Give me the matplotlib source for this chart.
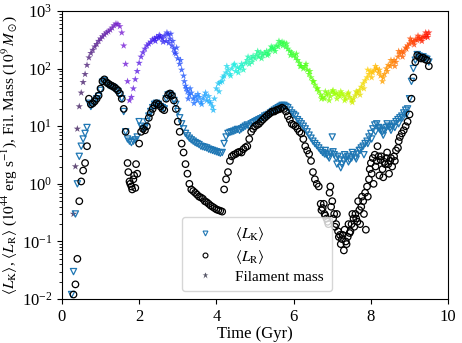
import numpy as np
import matplotlib
matplotlib.use("Agg")
import matplotlib.pyplot as plt
from matplotlib.colors import LinearSegmentedColormap
from matplotlib.lines import Line2D

# time grid (Gyr), 0.25 .. 9.50 in steps of 0.05
time = np.round(np.arange(0.25, 9.501, 0.05), 2)

fil_mass = [
    np.nan, 0.3, 2.0, 9, 22, 38, 58, 80, 115, 155,
    185, 210, 240, 265, 300, 330, 360, 390, 420, 440,
    470, 510, 560, 600, 590, 540, 420, 250, 120, 60,
    28, 32, 45, 65, 90, 125, 160, 190, 220, 250,
    270, 290, 320, 330, 350, 340, 360, 330, 370, 300,
    390, 330, 250, 220, 180, 150, 120, 95, 75, 50,
    40, 35, 38, 30, 33, 28, 32, 26, 30, 34,
    28, 33, 25, 22, 30, 45, 55, 58, 60, 75,
    85, 95, 80, 100, 115, 90, 105, 100, 120, 95,
    125, 140, 120, 150, 165, 150, 175, 160, 190, 170,
    185, 200, 180, 210, 230, 220, 250, 240, 270, 290,
    280, 240, 220, 200, 190, 170, 155, 140, 125, 110,
    100, 110, 95, 80, 70, 60, 52, 45, 40, 35,
    32, 30, 35, 38, 33, 40, 36, 38, 35, 33,
    37, 34, 30, 36, 32, 28, 30, 34, 38, 42,
    48, 55, 62, 70, 80, 90, 85, 95, 100, 85,
    75, 60, 80, 100, 115, 110, 125, 140, 130, 160,
    180, 200, 190, 230, 250, 270, 300, 290, 320, 310,
    340, 330, 360, 350, 380, 420,
]

L_K = [
    0.012, 0.03, 0.3, 1.0, 3.0, 4.5, 6, 7.5, 9.5, 25,
    22, 24, 27, 30, 33, 42, 58, 62, 55, 52,
    50, 48, 46, 42, 40, 35, 30, 18, 8, 6,
    5.5, 5.2, 5.5, 5.8, 6.5, 12, 10, 9, 9.5, 12,
    15, 18, 21, 24, 25, 24, 22, 21, 20, 30,
    35, 36, 33, 28, 24, 18, 14, 11, 9, 7.5,
    6.8, 6.2, 5.8, 5.5, 5.2, 5.0, 4.8, 4.5, 4.4, 4.3,
    4.2, 4.0, 3.9, 3.8, 3.7, 3.6, 3.5, 3.4, 3.5, 5.0,
    6.5, 7.5, 7.8, 8.0, 8.2, 8.5, 8.8, 8.5, 9.0, 9.5,
    10, 10.5, 10, 11, 11.5, 12, 12.5, 13, 13.5, 14,
    15, 15.5, 16, 17, 18, 19, 20, 21, 22, 23,
    23, 22, 21, 19, 17, 16, 15, 13, 12, 11,
    10, 9, 8, 7, 6.2, 5.5, 5, 4.6, 4.2, 3.8,
    3.5, 3.3, 3.2, 3.0, 3.4, 6.5, 3.2, 2.8, 3.0, 2.6,
    2.2, 2.5, 2.8, 3.0, 2.6, 2.8, 3.2, 2.9, 3.3, 3.8,
    4.2, 4.5, 5.0, 5.5, 6.5, 7.5, 9, 10.5, 11, 9.5,
    8.5, 8.0, 8.5, 9.5, 10, 9.5, 10, 11, 12, 13,
    14, 15, 17, 19, 20, 30, 60, 100, 140, 175,
    165, 150, 160, 150, 145, 130,
]

L_R = [
    np.nan, 0.012, 0.018, 0.05, 0.5, 1.1, 1.7, 2.3, 4.5, 30,
    24, 25, 27, 30, 34, 45, 60, 65, 58, 55,
    52, 50, 48, 45, 42, 37, 30, 20, 8, 2.3,
    1.1, 0.9, 1.2, 0.85, 1.5, 5, 8, 9, 8.5, 10,
    14, 17, 20, 23, 25, 24, 22, 20, 19, 30,
    35, 37, 34, 28, 20, 12, 8, 5, 3.5, 2.2,
    1.5, 1.0, 0.8, 0.75, 0.7, 0.65, 0.6, 0.58, 0.55, 0.5,
    0.48, 0.45, 0.42, 0.4, 0.38, 0.36, 0.35, 0.34, 0.33, 0.8,
    1.2, 1.6, 2.5, 3.0, 3.2, 3.3, 3.5, 3.6, 3.5, 4.0,
    4.3, 4.5, 6, 8, 9, 10, 10.5, 11, 12, 13,
    14, 15, 16, 17, 18, 18, 19, 19.5, 20, 21,
    20, 18, 15, 13, 11, 10.5, 10, 9, 8, 7.5,
    6, 4.5, 3.8, 3.3, 2.5, 1.6, 1.2, 1.0, 0.9, 0.45,
    0.38, 0.3, 0.25, 0.2, 0.9, 0.5, 0.3, 0.2, 0.15, 0.13,
    0.11, 0.07, 0.1, 0.12, 0.14, 0.2, 0.25, 0.3, 0.22, 0.35,
    0.4, 0.5, 0.7, 0.9, 1.2, 2.3, 2.8, 3.2, 2.5, 3.0,
    2.6, 1.8, 2.4, 2.8, 2.2, 2.5, 2.0, 3.0, 3.8, 4.2,
    6.5, 7.5, 8.5, 10, 12, 16, 30, 70, 130, 170,
    160, 150, 155, 145, 140, 110,
]

# extra scattered samples in the noisy intervals
mass_extra_time = [2.42, 2.52, 2.62, 2.72, 2.77, 2.82, 2.87, 2.92, 2.97, 3.07, 3.17,
                   3.22, 3.27, 3.32, 3.42, 3.52, 3.62, 3.72, 3.82, 3.92, 4.07, 4.17,
                   4.27, 4.37, 4.47, 4.57, 4.67, 4.82, 4.92, 5.07, 5.17, 5.32, 5.42,
                   5.52, 5.62, 5.72, 5.82, 5.92, 6.07, 6.17, 6.32, 6.42, 6.52, 6.62,
                   6.72, 6.82, 6.92, 7.02, 7.12, 7.22, 7.32, 7.42, 7.52, 7.62, 7.72,
                   7.82, 7.92, 8.02, 8.12, 8.22, 8.32, 8.42, 8.52, 8.62, 8.72, 8.82,
                   8.92, 9.02, 9.12, 9.22, 9.32, 9.42, 9.47]
mass_extra = [300, 380, 290, 420, 280, 400, 300, 190, 230, 140, 60,
              45, 30, 45, 25, 36, 24, 38, 27, 19, 40, 70,
              110, 75, 120, 85, 110, 160, 130, 200, 150, 170, 240,
              200, 300, 250, 270, 170, 180, 110, 120, 90, 60, 45,
              30, 40, 28, 42, 30, 40, 28, 38, 26, 40, 35,
              45, 95, 70, 110, 95, 70, 90, 140, 110, 200, 160,
              220, 330, 260, 370, 300, 420, 350]

K_extra_time = [6.82, 6.92, 7.02, 7.12, 7.22, 7.32, 7.42, 7.52, 7.62, 7.72, 7.82,
                7.92, 8.02, 8.12, 8.22, 8.32, 8.42, 8.52, 8.62, 8.72, 8.82, 8.92]
K_extra = [3.8, 2.8, 3.6, 2.2, 1.9, 3.2, 2.4, 3.5, 2.7, 3.8, 3.2,
           5.0, 6.0, 8.0, 9.0, 7.0, 11, 8.5, 9.5, 11, 14, 16]

R_extra_time = [1.72, 1.77, 1.82, 1.87, 1.92,
                6.72, 6.78, 6.82, 6.88, 6.93, 6.97, 7.02, 7.07, 7.12, 7.17, 7.22,
                7.27, 7.32, 7.37, 7.42, 7.47, 7.52, 7.57, 7.62, 7.67, 7.72, 7.77,
                7.82, 7.87, 7.92, 7.97, 8.02, 8.07, 8.12, 8.17, 8.22, 8.27, 8.32,
                8.37, 8.42, 8.47, 8.52, 8.62, 8.72]
R_extra = [1.6, 1.0, 0.8, 1.4, 2.2,
           0.35, 0.45, 0.28, 0.22, 0.7, 0.4, 0.25, 0.18, 0.3, 0.12, 0.09,
           0.13, 0.16, 0.09, 0.2, 0.15, 0.3, 0.18, 0.25, 0.5, 0.2, 0.6,
           0.3, 0.16, 0.6, 1.8, 1.5, 1.0, 2.0, 4.5, 1.4, 3.0, 1.3,
           2.2, 3.5, 1.5, 2.8, 2.5, 5.5]

plt.rcParams['font.family'] = ['Liberation Serif', 'DejaVu Serif']
plt.rcParams['mathtext.fontset'] = 'stix'

star_cmap = LinearSegmentedColormap.from_list("fil", [
    (0.00, "#3a2250"), (0.14, "#7a1fd6"), (0.24, "#3a1cf0"),
    (0.34, "#1a6cff"), (0.38, "#22aaff"), (0.46, "#20f0e0"),
    (0.56, "#20ff60"), (0.66, "#50ff10"), (0.76, "#b0ff00"),
    (0.83, "#ffd000"), (0.90, "#ff8000"), (1.00, "#ff1000")])

fig = plt.figure(figsize=(4.62, 3.43), dpi=100)
ax = fig.add_axes([0.134, 0.128, 0.836, 0.840])

k_style = dict(marker='v', s=20, facecolors='none', edgecolors='#1f77b4', linewidths=0.9)
r_style = dict(marker='o', s=22, facecolors='none', edgecolors='black', linewidths=0.9)
m_style = dict(marker='*', s=30, cmap=star_cmap, vmin=0.25, vmax=9.5, alpha=0.8, linewidths=0)

ax.scatter(time, L_K, zorder=2, **k_style)
ax.scatter(K_extra_time, K_extra, zorder=2, **k_style)
ax.scatter(time, L_R, zorder=3, **r_style)
ax.scatter(R_extra_time, R_extra, zorder=3, **r_style)
ax.scatter(time, fil_mass, c=time, zorder=1, **m_style)
ax.scatter(mass_extra_time, mass_extra, c=mass_extra_time, zorder=1, **m_style)

ax.set_yscale('log')
ax.set_xlim(0, 10)
ax.set_ylim(1e-2, 1e3)
ax.set_xlabel('Time (Gyr)', fontsize=12, labelpad=1)
ax.set_ylabel(r'$\langle L_{\rm K}\rangle$, $\langle L_{\rm R}\rangle$ ($10^{44}$ erg s$^{-1}$), Fil. Mass ($10^9\,M_\odot$)',
              fontsize=11, labelpad=2)
ax.tick_params(labelsize=12)

handles = [
    Line2D([], [], ls='', marker='v', ms=3.5, mfc='none', mec='#1f77b4', mew=0.8),
    Line2D([], [], ls='', marker='o', ms=3.5, mfc='none', mec='black', mew=0.8),
    Line2D([], [], ls='', marker='*', ms=4.5, mfc='#555566', mec='none'),
]
labels = [r'$\langle L_{\rm K}\rangle$', r'$\langle L_{\rm R}\rangle$', 'Filament mass']
leg = ax.legend(handles, labels, loc='lower left', bbox_to_anchor=(0.291, 0.0), fontsize=11,
                handletextpad=1.0, borderpad=0.5, labelspacing=0.3)
leg.set_zorder(5)

fig.savefig('out.png', dpi=100)
